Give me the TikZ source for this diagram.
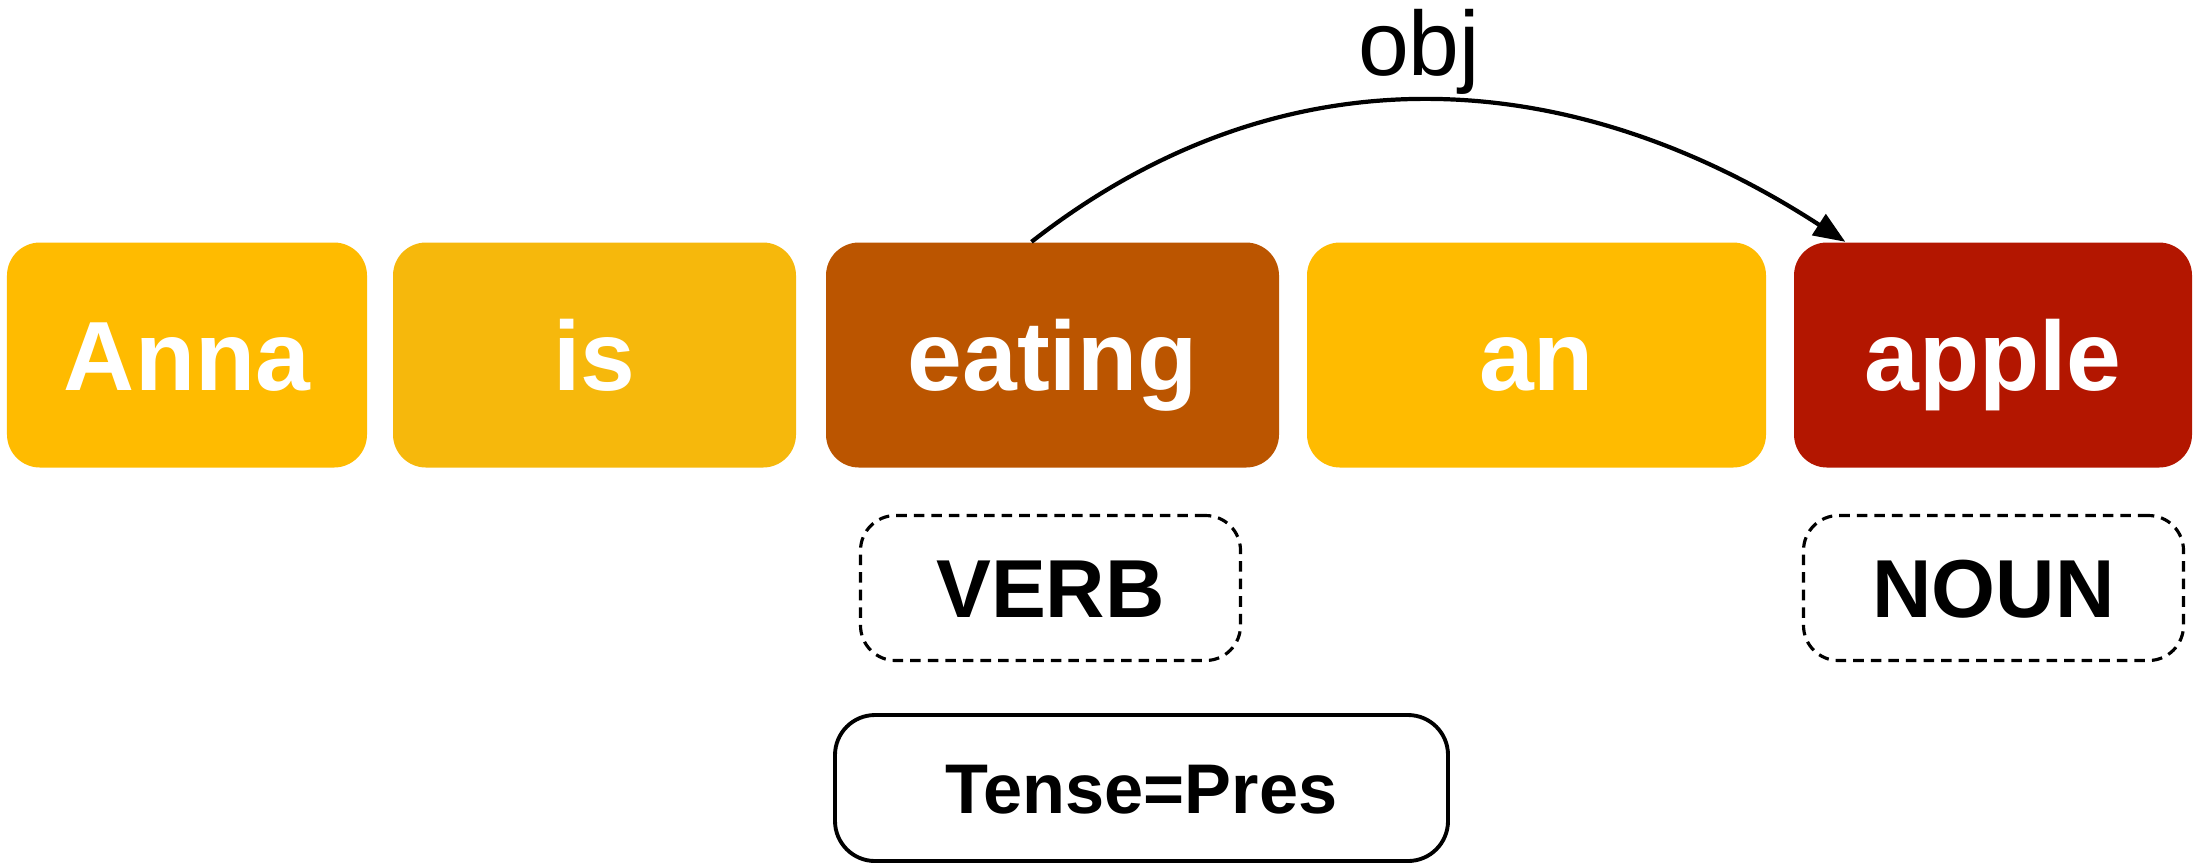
\documentclass[tikz,border=0pt]{standalone}
\usepackage{fontspec}
\setmainfont{Liberation Sans}
\usepackage{tikz}
\usetikzlibrary{positioning,arrows.meta,calc}
\definecolor{wordc}{HTML}{FFBB00}
\definecolor{auxc}{HTML}{F6B80C}
\definecolor{headc}{HTML}{BB5500}
\definecolor{depc}{HTML}{B31600}
\tikzset{
  word/.style={rounded corners=0.33cm,fill=#1,text=white,font=\bfseries\fontsize{28}{32}\selectfont,
    inner sep=0pt,text height=0.71cm,text depth=0pt,minimum height=2.25cm},
  tagbox/.style={draw,rounded corners=0.35cm,line width=0.9pt,dash pattern=on 3pt off 2pt,
    font=\bfseries\fontsize{23.4}{28}\selectfont,inner sep=0pt,text height=0.59cm,text depth=0pt,
    minimum width=3.8cm,minimum height=1.45cm},
  featbox/.style={draw,rounded corners=0.4cm,line width=1.1pt,font=\bfseries\fontsize{20}{24}\selectfont,
    inner sep=0pt,text height=0.51cm,text depth=0pt,minimum width=6.13cm,minimum height=1.46cm},
  deparc/.style={line width=1.2pt,-{Triangle[length=9pt,width=7pt]}}
}

\begin{document}
\begin{tikzpicture}
  \useasboundingbox (0,0) rectangle (21.94,-8.65);
  % tokens
  \foreach \n/\t/\x/\w/\c in {anna/Anna/1.87/3.60/wordc,is/is/5.945/4.03/auxc,eating/eating/10.525/4.53/headc,
      an/an/15.365/4.59/wordc,apple/apple/19.93/3.98/depc}
    {\node[word=\c,minimum width=\w cm] (w-\n) at (\x,-3.55) {\t};}
  % part of speech
  \node[tagbox] (pos-eating) at (10.505,-5.88) {VERB};
  \node[tagbox] (pos-apple) at (19.935,-5.88) {NOUN};
  \node[featbox] (feat-eating) at (11.415,-7.88) {Tense=Pres};
  % dependency
  \draw[deparc] ($(w-eating.north)+(-0.21,0)$) to[out=38,in=147,looseness=1.02]
    ($(w-apple.north west)+(0.52,0)$);
  \node[anchor=base,font=\fontsize{26}{30}\selectfont] (lbl-obj) at (14.19,-0.75) {obj};
\end{tikzpicture}
\end{document}
